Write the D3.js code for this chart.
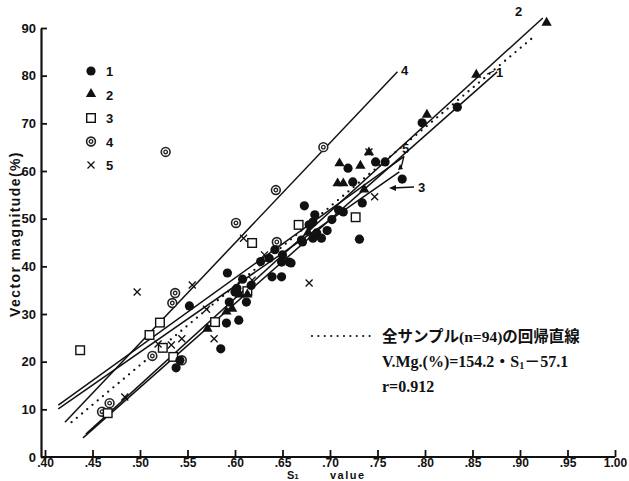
<!DOCTYPE html>
<html>
<head>
<meta charset="utf-8">
<script src="https://cdn.jsdelivr.net/npm/d3@7"></script>
<style>
body { margin: 0; background: #fff; }
text { fill: #111; }
</style>
</head>
<body>
<div id="chart"></div>
<script>
// tick values
var xTicks = [0.40, 0.45, 0.50, 0.55, 0.60, 0.65, 0.70, 0.75, 0.80, 0.85, 0.90, 0.95, 1.00];
var yTicks = [0, 10, 20, 30, 40, 50, 60, 70, 80, 90];

// samples by group: [S1, vector magnitude]
var group1 = [[.834,73.4],[.797,70.1],[.719,60.6],[.748,61.9],[.758,61.9],[.724,57.7],[.776,58.3],
    [.734,53.3],[.714,51.4],[.673,52.7],[.731,45.7],[.682,49.3],[.686,47.0],[.691,45.9],[.682,45.9],
    [.684,50.8],[.678,48.7],[.670,45.5],[.650,42.4],[.649,40.9],[.657,40.9],[.636,41.7],[.639,37.8],
    [.649,37.8],[.608,37.3],[.592,38.6],[.552,31.7],[.594,32.5],[.612,32.5],[.591,28.1],[.604,28.7],
    [.585,22.7],[.538,18.7],[.542,20.3],[.659,40.7],[.671,45.1],[.600,34.6],[.602,35.4],[.617,36.0],
    [.627,41.0],[.642,43.5],[.697,47.5],[.709,51.8],[.702,49.8]];
var group2 = [[.928,91.0],[.854,80.1],[.802,71.7],[.710,61.5],[.732,61.0],[.708,57.3],[.714,57.3],
    [.741,63.8],[.571,26.8],[.591,30.4],[.597,31.0],[.605,34.0],[.613,34.0],[.736,56.0],[.677,47.0]];
var group3 = [[.437,22.4],[.510,25.6],[.521,28.2],[.524,22.9],[.535,21.0],[.579,28.3],[.613,34.8],
    [.618,44.9],[.466,9.2],[.667,48.7],[.727,50.3]];
var group4 = [[.527,64.0],[.643,56.0],[.601,49.1],[.693,65.0],[.644,45.1],[.537,34.4],[.534,32.3],
    [.513,21.2],[.544,20.3],[.468,11.3],[.460,9.5]];
var group5 = [[.497,34.6],[.555,36.1],[.519,23.7],[.533,23.5],[.544,24.8],[.570,31.0],[.578,24.8],
    [.484,12.6],[.609,45.9],[.678,36.5],[.631,42.4],[.618,37.1],[.741,64.0],[.747,54.6]];

// group regression lines: [label, s1 start, v start, s1 end, v end]
var fitLines = [
    ["1", .440, 4.0, .876, 80.8],
    ["2", .443, 4.8, .924, 92.1],
    ["3", .414, 10.1, .773, 59.8],
    ["4", .421, 7.3, .771, 80.8],
    ["5", .414, 10.9, .777, 62.9]
];
// all samples line (dotted)
var allLine = [.428, 7.3, .913, 87.9];

var width = 629,
    height = 481;

var svg = d3.select("#chart")
    .append("svg")
    .attr("width", width)
    .attr("height", height);

var x = d3.scaleLinear().domain([0.40, 1.00]).range([45, 615]);
var y = d3.scaleLinear().domain([0, 90]).range([457, 28]);

var xAxis = d3.axisBottom(x)
    .tickValues(xTicks)
    .tickSizeInner(-7)
    .tickSizeOuter(0)
    .tickPadding(1)
    .tickFormat(function(d) { return d3.format(".2f")(d).replace(/^0/, ""); });

var yAxis = d3.axisLeft(y)
    .tickValues(yTicks)
    .tickSizeInner(-6)
    .tickSizeOuter(0)
    .tickPadding(5)
    .tickFormat(d3.format("d"));

var gx = svg.append("g")
    .attr("transform", "translate(0,457)")
    .call(xAxis);
gx.select(".domain").attr("d", "M41,0H615");

var gy = svg.append("g")
    .attr("transform", "translate(41,0)")
    .call(yAxis);

svg.selectAll(".domain").attr("stroke", "#111").attr("stroke-width", 2.2);
svg.selectAll(".tick line").attr("stroke", "#111").attr("stroke-width", 1.8);
svg.selectAll(".tick text")
    .style("font-family", "Liberation Sans, Arial, sans-serif")
    .style("font-weight", "bold")
    .style("font-size", "13px")
    .attr("fill", "#111");
gx.selectAll(".tick text").style("font-size", "12px").attr("dy", "0.72em");

// axis titles
svg.append("text")
    .attr("transform", "translate(20,234) rotate(-90)")
    .attr("text-anchor", "middle")
    .style("font-family", "Liberation Sans, Arial, sans-serif")
    .style("font-weight", "bold")
    .style("font-size", "14px")
    .style("letter-spacing", "1.4px")
    .text("Vector magnitude(%)");

var xt = svg.append("text")
    .attr("x", 287)
    .attr("y", 479)
    .style("font-family", "Liberation Sans, Arial, sans-serif")
    .style("font-weight", "bold")
    .style("font-size", "11px");
xt.append("tspan").text("S");
xt.append("tspan").style("font-size", "8px").text("1");
svg.append("text")
    .attr("x", 330)
    .attr("y", 479)
    .style("font-family", "Liberation Sans, Arial, sans-serif")
    .style("font-weight", "bold")
    .style("font-size", "11px")
    .style("letter-spacing", "1.5px")
    .text("value");

// regression lines
svg.selectAll(".fit")
    .data(fitLines)
    .enter().append("line")
    .attr("class", "fit")
    .attr("x1", function(d) { return x(d[1]); })
    .attr("y1", function(d) { return y(d[2]); })
    .attr("x2", function(d) { return x(d[3]); })
    .attr("y2", function(d) { return y(d[4]); })
    .attr("stroke", "#111")
    .attr("stroke-width", 1.5);

svg.append("line")
    .attr("x1", x(allLine[0])).attr("y1", y(allLine[1]))
    .attr("x2", x(allLine[2])).attr("y2", y(allLine[3]))
    .attr("stroke", "#111")
    .attr("stroke-width", 2.3)
    .attr("stroke-linecap", "round")
    .attr("stroke-dasharray", "0,6.8");

// line labels
var lab = function(t, px, py) {
    svg.append("text")
        .attr("x", px).attr("y", py)
        .style("font-family", "Liberation Sans, Arial, sans-serif")
        .style("font-weight", "bold")
        .style("font-size", "13px")
        .text(t);
};
lab("2", 515, 16);
lab("4", 401, 75);
lab("1", 496, 77);
lab("5", 402, 153);
lab("3", 418, 192);
svg.append("line").attr("x1", 487).attr("y1", 74).attr("x2", 494).attr("y2", 71)
    .attr("stroke", "#111").attr("stroke-width", 1.3);
svg.append("line").attr("x1", 404).attr("y1", 156).attr("x2", 401).attr("y2", 168)
    .attr("stroke", "#111").attr("stroke-width", 1.3);
svg.append("path").attr("d", "M398,170l2,-6l3,5z").attr("fill", "#111");
svg.append("line").attr("x1", 414).attr("y1", 187).attr("x2", 392).attr("y2", 188)
    .attr("stroke", "#111").attr("stroke-width", 1.3);
svg.append("path").attr("d", "M389,188l7,-3v6z").attr("fill", "#111");

// markers
var tri = d3.symbol().type(d3.symbolTriangle).size(46);

function drawMark(g, k) {
    if (k == 1) {
        g.append("circle").attr("r", 4.6).attr("fill", "#111");
    } else if (k == 2) {
        g.append("path").attr("d", tri).attr("fill", "#111").attr("transform", "translate(0,-0.5)");
    } else if (k == 3) {
        g.append("rect").attr("x", -4.3).attr("y", -4.3).attr("width", 8.6).attr("height", 8.6)
            .attr("fill", "#fff").attr("stroke", "#111").attr("stroke-width", 1.4);
    } else if (k == 4) {
        g.append("circle").attr("r", 4.4).attr("fill", "#fff").attr("stroke", "#222").attr("stroke-width", 1.6);
        g.append("circle").attr("r", 1.8).attr("fill", "none").attr("stroke", "#222").attr("stroke-width", 1.3);
    } else {
        g.append("path").attr("d", "M-3.5,-3.5L3.5,3.5M-3.5,3.5L3.5,-3.5")
            .attr("stroke", "#111").attr("stroke-width", 1.3);
    }
}

var groups = [group4, group3, group5, group2, group1];
var kinds = [4, 3, 5, 2, 1];
groups.forEach(function(data, i) {
    svg.append("g").selectAll("g")
        .data(data)
        .enter().append("g")
        .attr("transform", function(d) { return "translate(" + x(d[0]) + "," + y(d[1]) + ")"; })
        .each(function() { drawMark(d3.select(this), kinds[i]); });
});

// legend
var legendIds = ["1", "2", "3", "4", "5"];
var legend = svg.selectAll(".legend")
    .data(legendIds)
    .enter().append("g")
    .attr("class", "legend")
    .attr("transform", function(d, i) { return "translate(91," + (71 + i * 23.5) + ")"; });
legend.each(function(d, i) { drawMark(d3.select(this), i + 1); });
legend.append("text")
    .attr("x", 15)
    .attr("y", 5)
    .style("font-family", "Liberation Sans, Arial, sans-serif")
    .style("font-weight", "bold")
    .style("font-size", "13px")
    .text(function(d) { return d; });

// note for all samples line
svg.append("line")
    .attr("x1", 312).attr("y1", 336).attr("x2", 370).attr("y2", 336)
    .attr("stroke", "#111").attr("stroke-width", 2.2)
    .attr("stroke-linecap", "round").attr("stroke-dasharray", "0,6.4");

var note = svg.append("g")
    .style("font-family", "Liberation Serif, Noto Sans CJK JP, serif")
    .style("font-weight", "bold")
    .style("font-size", "16px");
note.append("text").attr("x", 382).attr("y", 342).style("font-size", "15.5px").text("全サンプル(n=94)の回帰直線");
var eq = note.append("text").attr("x", 382).attr("y", 367);
eq.append("tspan").text("V.Mg.(%)=154.2・S");
eq.append("tspan").attr("dy", 2).style("font-size", "10px").text("1");
eq.append("tspan").attr("dy", -2).text("－57.1");
note.append("text").attr("x", 382).attr("y", 392).text("r=0.912");
</script>
</body>
</html>
